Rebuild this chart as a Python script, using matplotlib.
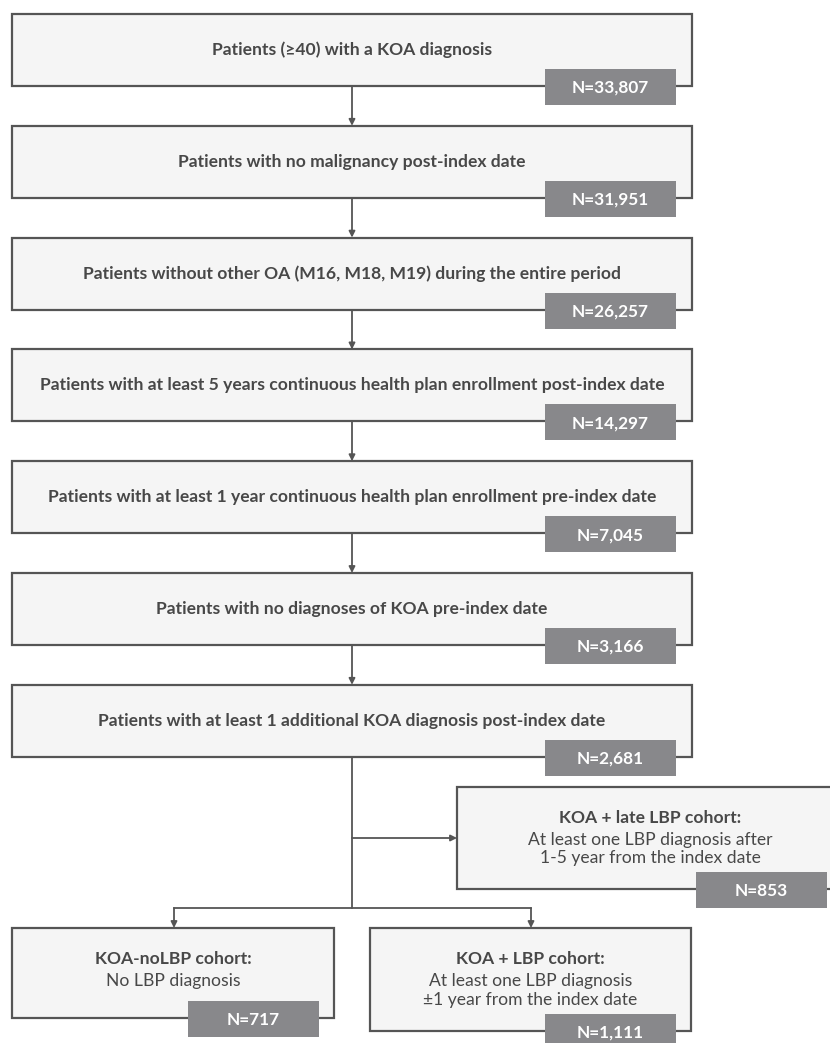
import matplotlib
matplotlib.use("Agg")
import matplotlib.pyplot as plt
from matplotlib.patches import Rectangle

plt.rcParams['font.family'] = ['Lato', 'DejaVu Sans']

# flow steps (top to bottom)
step_labels = [
    "Patients (\u226540) with a KOA diagnosis",
    "Patients with no malignancy post-index date",
    "Patients without other OA (M16, M18, M19) during the entire period",
    "Patients with at least 5 years continuous health plan enrollment post-index date",
    "Patients with at least 1 year continuous health plan enrollment pre-index date",
    "Patients with no diagnoses of KOA pre-index date",
    "Patients with at least 1 additional KOA diagnosis post-index date",
]
step_counts = [33807, 31951, 26257, 14297, 7045, 3166, 2681]

# cohorts
cohort_titles = ["KOA + late LBP cohort:", "KOA-noLBP cohort:", "KOA + LBP cohort:"]
cohort_desc = [
    "At least one LBP diagnosis after\n1-5 year from the index date",
    "No LBP diagnosis",
    "At least one LBP diagnosis\n\u00b11 year from the index date",
]
cohort_counts = [853, 717, 1111]

BOX_FACE = "#f5f5f5"
EDGE = "#555555"
TXT = "#484848"
NFACE = "#88888b"
FS = 12.6


def box(ax, x, y, w, h):
    ax.add_patch(Rectangle((x, y), w, h, facecolor=BOX_FACE, edgecolor=EDGE, lw=1.6, zorder=2))


def nbox(ax, x, y, n):
    ax.add_patch(Rectangle((x, y), 131, 36, facecolor=NFACE, edgecolor="none", zorder=3))
    ax.text(x + 65.5, y + 19, f"N={n:,}", ha="center", va="center", color="white",
            fontsize=12.4, fontweight="bold", zorder=4)


def arrow(ax, x0, y0, x1, y1):
    ax.annotate("", xy=(x1, y1), xytext=(x0, y0),
                arrowprops=dict(arrowstyle="-|>", color=EDGE, lw=1.3, mutation_scale=9,
                                shrinkA=0, shrinkB=0), zorder=1)


fig = plt.figure(figsize=(8.3, 10.43), dpi=100)
ax = fig.add_axes([0, 0, 1, 1])
ax.set_xlim(0, 830)
ax.set_ylim(1043, 0)
ax.axis("off")

left, width, height, step = 12, 680, 72, 111.8
cx = left + width / 2

for i, (lab, n) in enumerate(zip(step_labels, step_counts)):
    top = 14 + i * step
    box(ax, left, top, width, height)
    ax.text(cx, top + height / 2, lab, ha="center", va="center", color=TXT,
            fontsize=FS, fontweight="bold", zorder=4)
    nbox(ax, 545, top + height - 17, n)
    if i < len(step_labels) - 1:
        arrow(ax, cx, top + height, cx, top + step)

# branch section
last_bottom = 14 + 6 * step + height
split_y = 908
ax.plot([cx, cx], [last_bottom, split_y], color=EDGE, lw=1.3, zorder=1)
arrow(ax, cx, 838, 457, 838)
ax.plot([174, 531], [split_y, split_y], color=EDGE, lw=1.3, zorder=1)
arrow(ax, 174, split_y, 174, 928)
arrow(ax, 531, split_y, 531, 928)

# cohort boxes: (x, y, w, h, n-box x, n-box y)
geo = [
    (457, 787, 386, 102, 696, 872),
    (12, 928, 322, 90, 188, 1001),
    (370, 928, 321, 103, 545, 1014),
]
for (x, y, w, h, nx, ny), title, desc, n in zip(geo, cohort_titles, cohort_desc, cohort_counts):
    box(ax, x, y, w, h)
    mid = x + w / 2
    ty = y + 31
    ax.text(mid, ty, title, ha="center", va="center", color=TXT, fontsize=FS,
            fontweight="bold", zorder=4)
    for k, ln in enumerate(desc.split("\n")):
        ax.text(mid, ty + 22 + k * 18.5, ln, ha="center", va="center", color=TXT,
                fontsize=FS, zorder=4)
    nbox(ax, nx, ny, n)

fig.savefig("out.png", dpi=100, facecolor="white")
